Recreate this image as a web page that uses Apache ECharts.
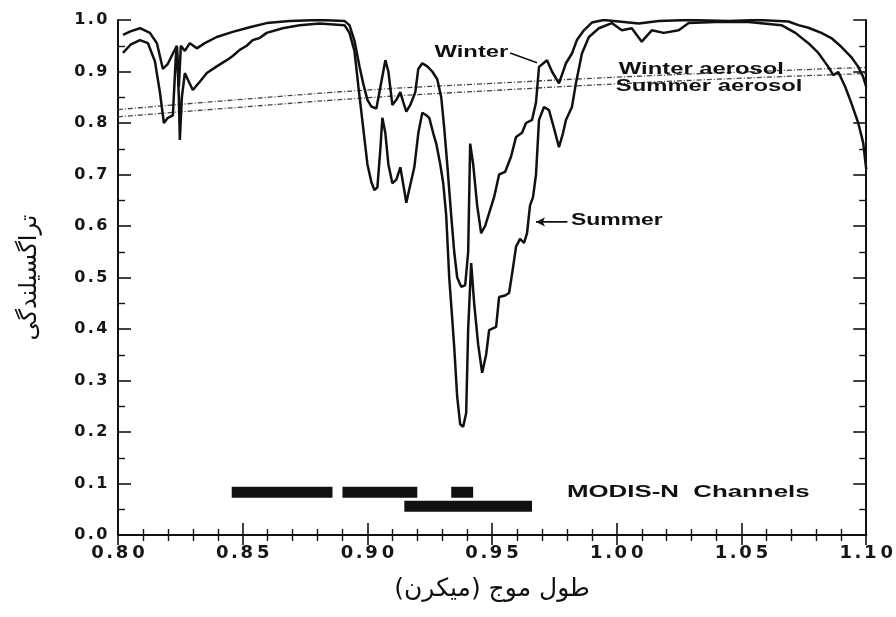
<!DOCTYPE html>
<html>
<head>
<meta charset="utf-8">
<script src="https://cdn.jsdelivr.net/npm/echarts@6/dist/echarts.min.js"></script>
<style>
  html, body { margin: 0; padding: 0; background: #fff; }
  #main { width: 896px; height: 617px; }
</style>
</head>
<body>
<div id="main"></div>
<script>
// wavelength (micron) / transmittance
const winter = [
  [0.802,0.971],[0.805,0.978],[0.8088,0.984],[0.8128,0.975],[0.8156,0.955],[0.818,0.905],[0.820,0.915],[0.822,0.935],
  [0.8236,0.95],[0.8244,0.87],[0.8252,0.95],[0.8268,0.94],[0.8288,0.955],[0.8316,0.945],[0.8348,0.955],[0.8396,0.967],
  [0.846,0.977],[0.8528,0.986],[0.8596,0.994],[0.8688,0.998],[0.8808,1.0],[0.8908,0.998],[0.8928,0.99],[0.8948,0.96],
  [0.8968,0.91],[0.8984,0.875],[0.900,0.845],[0.9016,0.832],[0.9036,0.828],[0.9052,0.87],[0.9072,0.922],[0.9084,0.90],
  [0.910,0.835],[0.9116,0.845],[0.9132,0.86],[0.9144,0.84],[0.9156,0.822],[0.9172,0.835],[0.9192,0.86],[0.9204,0.905],
  [0.922,0.916],[0.924,0.91],[0.926,0.90],[0.928,0.885],[0.9296,0.85],[0.9308,0.79],[0.932,0.72],[0.9336,0.62],
  [0.9348,0.55],[0.936,0.50],[0.9376,0.482],[0.9392,0.485],[0.9404,0.55],[0.9412,0.76],[0.9424,0.72],[0.944,0.64],
  [0.9456,0.586],[0.9472,0.60],[0.9488,0.625],[0.9508,0.656],[0.9528,0.70],[0.9552,0.705],[0.9576,0.735],[0.9596,0.773],
  [0.962,0.781],[0.9636,0.80],[0.966,0.806],[0.9676,0.84],[0.9688,0.909],[0.972,0.922],[0.974,0.90],[0.9768,0.877],
  [0.9796,0.916],[0.982,0.935],[0.984,0.961],[0.9868,0.98],[0.990,0.995],[0.9948,1.0],[1.0008,0.997],[1.0088,0.993],
  [1.0168,0.998],[1.0288,1.0],[1.0448,0.998],[1.0568,1.0],[1.0688,0.997],[1.0728,0.99],[1.0768,0.985],[1.082,0.975],
  [1.086,0.965],[1.090,0.948],[1.094,0.928],[1.0968,0.909],[1.0988,0.889],[1.10,0.87]
];
const summer = [
  [0.802,0.936],[0.805,0.952],[0.8088,0.961],[0.812,0.955],[0.8148,0.92],[0.8168,0.86],[0.8184,0.80],[0.820,0.81],
  [0.822,0.815],[0.8232,0.93],[0.8236,0.948],[0.8244,0.85],[0.8248,0.767],[0.8256,0.85],[0.8268,0.897],[0.8284,0.88],
  [0.830,0.864],[0.8328,0.88],[0.8356,0.897],[0.8396,0.91],[0.8436,0.922],[0.846,0.93],[0.8488,0.942],[0.8516,0.95],
  [0.854,0.961],[0.8568,0.965],[0.8596,0.975],[0.866,0.984],[0.8728,0.99],[0.8808,0.993],[0.8908,0.99],[0.8928,0.975],
  [0.8948,0.94],[0.8964,0.87],[0.8976,0.82],[0.8988,0.77],[0.900,0.72],[0.9016,0.685],[0.9028,0.67],[0.904,0.675],
  [0.9052,0.75],[0.906,0.81],[0.9072,0.78],[0.9084,0.72],[0.910,0.683],[0.9116,0.69],[0.9132,0.714],[0.9144,0.68],
  [0.9156,0.645],[0.9172,0.68],[0.9188,0.714],[0.9204,0.78],[0.922,0.82],[0.9236,0.815],[0.9248,0.81],[0.9264,0.78],
  [0.9276,0.76],[0.9292,0.72],[0.9304,0.683],[0.9316,0.62],[0.9328,0.50],[0.934,0.42],[0.9348,0.365],[0.936,0.268],
  [0.9372,0.215],[0.9384,0.21],[0.9396,0.237],[0.9404,0.40],[0.9416,0.528],[0.9428,0.45],[0.9444,0.37],[0.946,0.315],
  [0.9476,0.35],[0.9488,0.398],[0.9516,0.404],[0.9528,0.462],[0.9552,0.465],[0.9568,0.47],[0.9584,0.52],[0.9596,0.56],
  [0.9612,0.575],[0.9628,0.567],[0.964,0.586],[0.9652,0.64],[0.9664,0.656],[0.9676,0.70],[0.9688,0.806],[0.9708,0.831],
  [0.9728,0.825],[0.9748,0.79],[0.9768,0.753],[0.9784,0.78],[0.9796,0.806],[0.982,0.831],[0.9836,0.877],[0.986,0.935],
  [0.9888,0.967],[0.9928,0.984],[0.998,0.994],[1.002,0.98],[1.006,0.984],[1.010,0.958],[1.014,0.98],[1.0188,0.975],
  [1.0248,0.98],[1.0288,0.994],[1.0396,0.996],[1.0528,0.996],[1.066,0.99],[1.0716,0.975],[1.0768,0.955],[1.0808,0.936],
  [1.0848,0.909],[1.0868,0.893],[1.0888,0.899],[1.0916,0.87],[1.094,0.839],[1.0968,0.80],[1.0988,0.761],[1.10,0.71]
];
const winterAerosol = [[0.80,0.826],[0.85,0.846],[0.90,0.864],[0.95,0.877],[1.00,0.889],[1.05,0.899],[1.10,0.908]];
const summerAerosol = [[0.80,0.812],[0.85,0.831],[0.90,0.849],[0.95,0.863],[1.00,0.876],[1.05,0.887],[1.10,0.896]];
// MODIS-N channels: [start, end, level]
const modisChannels = [[0.8456,0.886,0.083],[0.890,0.920,0.083],[0.9336,0.9424,0.083],[0.9148,0.966,0.056]];

const INK = '#111';
const LATIN = 'Liberation Sans';
const DIGITS = 'DejaVu Sans';
const FARSI = 'DejaVu Sans';

// the old plot has very wide, spaced digits
function spaced(s) {
  return s.split('').map(c => (c === '.' ? '{p|.}' : '{d|' + c + '}')).join('');
}
function digitRich(size, dw, pw) {
  const base = { align: 'center', fontSize: size, fontWeight: 'bold', fontFamily: DIGITS, color: '#161616' };
  return { d: Object.assign({ width: dw }, base), p: Object.assign({ width: pw }, base) };
}

const chart = echarts.init(document.getElementById('main'));

const axisCommon = {
  axisLine: { lineStyle: { color: INK, width: 2 } },
  axisTick: { inside: true, lineStyle: { color: INK, width: 1.6 } },
  minorTick: { show: true, lineStyle: { color: INK, width: 1.4 } },
  splitLine: { show: false }
};

// annotations placed in data coords, text stretched like the scan
const notes = [
  { text: 'Winter', at: [0.9565, 0.938], align: 'right', sx: 1.4 },
  { text: 'Summer', at: [0.9816, 0.612], align: 'left', sx: 1.35 },
  { text: 'Winter aerosol', at: [1.0008, 0.904], align: 'left', sx: 1.4 },
  { text: 'Summer aerosol', at: [0.9996, 0.872], align: 'left', sx: 1.4 },
  { text: 'MODIS-N  Channels', at: [0.980, 0.083], align: 'left', sx: 1.52 }
];

const series = [
  {
    type: 'line', data: winter, symbol: 'none', z: 5,
    lineStyle: { color: INK, width: 2.5 }
  },
  {
    type: 'line', data: summer, symbol: 'none', z: 5,
    lineStyle: { color: INK, width: 2.5 }
  },
  {
    type: 'line', data: winterAerosol, symbol: 'none', smooth: true, z: 3,
    lineStyle: { color: '#444', width: 1.3, type: [5, 2, 1, 2] }
  },
  {
    type: 'line', data: summerAerosol, symbol: 'none', smooth: true, z: 3,
    lineStyle: { color: '#444', width: 1.3, type: [5, 2, 1, 2] }
  },
  // label pointers
  {
    type: 'line', symbol: 'none', z: 4,
    data: [[0.9572, 0.936], [0.9680, 0.917]],
    lineStyle: { color: INK, width: 1.6 }
  },
  {
    type: 'line', z: 4,
    data: [
      { value: [0.9676, 0.608], symbol: 'arrow', symbolRotate: 90, symbolSize: [7, 9] },
      { value: [0.9802, 0.608], symbol: 'none' }
    ],
    itemStyle: { color: INK },
    lineStyle: { color: INK, width: 1.6 }
  },
  {
    type: 'custom', z: 6,
    data: notes.map(n => n.at),
    renderItem(params, api) {
      const n = notes[params.dataIndex];
      const p = api.coord([api.value(0), api.value(1)]);
      return {
        type: 'text', x: p[0], y: p[1], scaleX: n.sx,
        style: {
          text: n.text, fill: INK, fontSize: 17, fontWeight: 'bold', fontFamily: LATIN,
          align: n.align, verticalAlign: 'middle'
        }
      };
    }
  }
];

modisChannels.forEach(c => {
  series.push({
    type: 'line', symbol: 'none', z: 4,
    data: [[c[0], c[2]], [c[1], c[2]]],
    lineStyle: { color: INK, width: 11, cap: 'butt' }
  });
});

chart.setOption({
  animation: false,
  backgroundColor: '#fff',
  grid: { left: 118, right: 28, top: 20, bottom: 82 },
  xAxis: [
    Object.assign({}, axisCommon, {
      type: 'value', min: 0.8, max: 1.1, interval: 0.05,
      axisTick: Object.assign({}, axisCommon.axisTick, { length: 12 }),
      minorTick: Object.assign({}, axisCommon.minorTick, { splitNumber: 5, length: 6 }),
      axisLabel: {
        margin: 9, color: '#161616', fontSize: 18, fontWeight: 'bold', fontFamily: DIGITS,
        formatter: v => spaced(v.toFixed(2)),
        rich: digitRich(18, 16.5, 8)
      },
      name: 'طول موج (میکرن)\u200F',
      nameLocation: 'middle', nameGap: 42,
      nameTextStyle: { fontFamily: FARSI, fontSize: 25, color: '#111' }
    }),
    Object.assign({}, axisCommon, {
      type: 'value', min: 0.8, max: 1.1, interval: 0.05, position: 'top',
      axisTick: Object.assign({}, axisCommon.axisTick, { length: 10 }),
      minorTick: Object.assign({}, axisCommon.minorTick, { splitNumber: 5, length: 6 }),
      axisLabel: { show: false }
    })
  ],
  yAxis: [
    Object.assign({}, axisCommon, {
      type: 'value', min: 0, max: 1, interval: 0.1,
      axisTick: Object.assign({}, axisCommon.axisTick, { length: 13 }),
      minorTick: Object.assign({}, axisCommon.minorTick, { splitNumber: 2, length: 7 }),
      axisLabel: {
        margin: 9, color: '#161616', fontSize: 16, fontWeight: 'bold', fontFamily: DIGITS,
        formatter: v => spaced(v.toFixed(1)),
        rich: digitRich(16, 14.5, 7.5)
      },
      name: 'تراگسیلندگی',
      nameLocation: 'middle', nameGap: 76,
      nameTextStyle: { fontFamily: FARSI, fontSize: 24, color: '#111' }
    }),
    Object.assign({}, axisCommon, {
      type: 'value', min: 0, max: 1, interval: 0.1, position: 'right',
      axisTick: Object.assign({}, axisCommon.axisTick, { length: 13 }),
      minorTick: Object.assign({}, axisCommon.minorTick, { splitNumber: 2, length: 7 }),
      axisLabel: { show: false }
    })
  ],
  series: series
});
</script>
</body>
</html>
